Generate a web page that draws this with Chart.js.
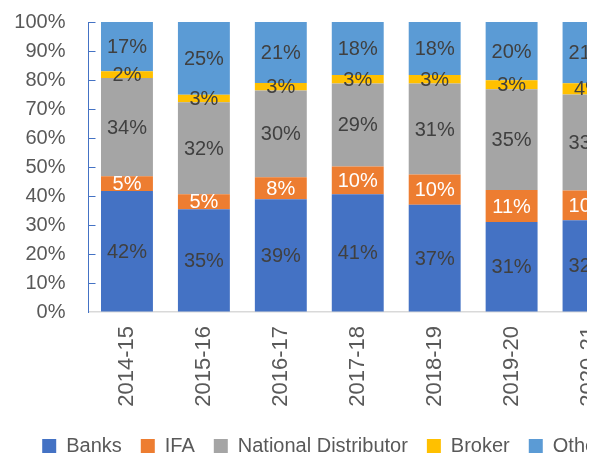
<!DOCTYPE html>
<html>
<head>
<meta charset="utf-8">
<script src="https://cdn.jsdelivr.net/npm/chart.js@4.4.0/dist/chart.umd.min.js"></script>
<style>
  body { margin: 0; background: #fff; overflow: hidden; }
  #crop { width: 587px; height: 454px; overflow: hidden; }
  #box { width: 685px; height: 470px; }
</style>
</head>
<body>
<div id="crop"><div id="box"><canvas id="shareChart"></canvas></div></div>
<script>
// Distribution channel share by year (%)
const years = ["2014-15", "2015-16", "2016-17", "2017-18", "2018-19", "2019-20", "2020-21"];
const banks = [41.7, 35.4, 38.9, 40.6, 37.0, 31.0, 31.6];
const ifa = [5.1, 5.2, 7.6, 9.6, 10.4, 11.1, 10.3];
const nationalDistributor = [33.9, 31.7, 29.9, 28.6, 31.4, 34.7, 33.1];
const broker = [2.3, 2.6, 2.6, 2.9, 2.9, 3.1, 3.9];
const others = [17.0, 25.1, 21.0, 18.3, 18.3, 20.1, 21.1];
const yTicks = [0, 10, 20, 30, 40, 50, 60, 70, 80, 90, 100];

Chart.defaults.font.family = "'Liberation Sans', Arial, sans-serif";
Chart.defaults.font.size = 20;
Chart.defaults.color = "#595959";

// labels in the middle of each segment
const segmentLabels = {
  id: "segmentLabels",
  afterDatasetsDraw(chart) {
    const ctx = chart.ctx;
    ctx.save();
    ctx.font = "20px 'Liberation Sans', Arial, sans-serif";
    ctx.textAlign = "center";
    ctx.textBaseline = "middle";
    chart.data.datasets.forEach((ds, i) => {
      chart.getDatasetMeta(i).data.forEach((bar, j) => {
        const p = bar.getCenterPoint();
        ctx.fillStyle = ds.labelColor;
        ctx.fillText(Math.round(ds.data[j]) + "%", p.x, p.y + 1);
      });
    });
    ctx.restore();
  }
};

// small tick marks on the inside of the y axis
const innerTicks = {
  id: "innerTicks",
  afterDraw(chart) {
    const ctx = chart.ctx;
    const y = chart.scales.y;
    ctx.save();
    ctx.strokeStyle = "#4472C4";
    ctx.lineWidth = 1;
    y.ticks.forEach(t => {
      if (t.value === 0) return;
      const py = Math.round(y.getPixelForValue(t.value)) + 0.5;
      ctx.beginPath();
      ctx.moveTo(y.right, py);
      ctx.lineTo(y.right + 7, py);
      ctx.stroke();
    });
    ctx.restore();
  }
};

// the legend sits a little right of the plot centre
const shiftLegend = {
  id: "shiftLegend",
  afterLayout(chart) {
    chart.legend.left += 14;
    chart.legend.right += 14;
  }
};

new Chart(document.getElementById("shareChart"), {
  type: "bar",
  data: {
    labels: years,
    datasets: [
      { label: "Banks", data: banks, backgroundColor: "#4472C4", labelColor: "#404040" },
      { label: "IFA", data: ifa, backgroundColor: "#ED7D31", labelColor: "#FFFFFF" },
      { label: "National Distributor", data: nationalDistributor, backgroundColor: "#A5A5A5", labelColor: "#404040" },
      { label: "Broker", data: broker, backgroundColor: "#FFC000", labelColor: "#404040" },
      { label: "Others", data: others, backgroundColor: "#5B9BD5", labelColor: "#404040" }
    ]
  },
  options: {
    responsive: true,
    maintainAspectRatio: false,
    animation: false,
    categoryPercentage: 1,
    barPercentage: 0.675,
    layout: { padding: { top: 22, right: 58, left: 0, bottom: 4 } },
    plugins: {
      tooltip: { enabled: false },
      legend: {
        position: "bottom",
        labels: { boxWidth: 14, boxHeight: 14, padding: 19, color: "#595959", font: { size: 20 } }
      }
    },
    scales: {
      x: {
        stacked: true,
        grid: { drawOnChartArea: false, drawTicks: false },
        border: { color: "#D9D9D9", width: 1.5 },
        ticks: { minRotation: 90, maxRotation: 90, padding: 14, font: { size: 22 } },
        afterFit: axis => { axis.height = 105; }
      },
      y: {
        stacked: true,
        min: 0,
        max: 100,
        grid: { drawOnChartArea: false, drawTicks: false },
        border: { color: "#4472C4", width: 1 },
        afterBuildTicks: axis => { axis.ticks = yTicks.map(v => ({ value: v })); },
        ticks: { autoSkip: false, padding: 23, callback: v => v + "%" },
        afterFit: axis => {
          axis.width = 88.5;
          axis.paddingTop = 12;
          axis.paddingBottom = 12;
        }
      }
    }
  },
  plugins: [segmentLabels, innerTicks, shiftLegend]
});
</script>
</body>
</html>
